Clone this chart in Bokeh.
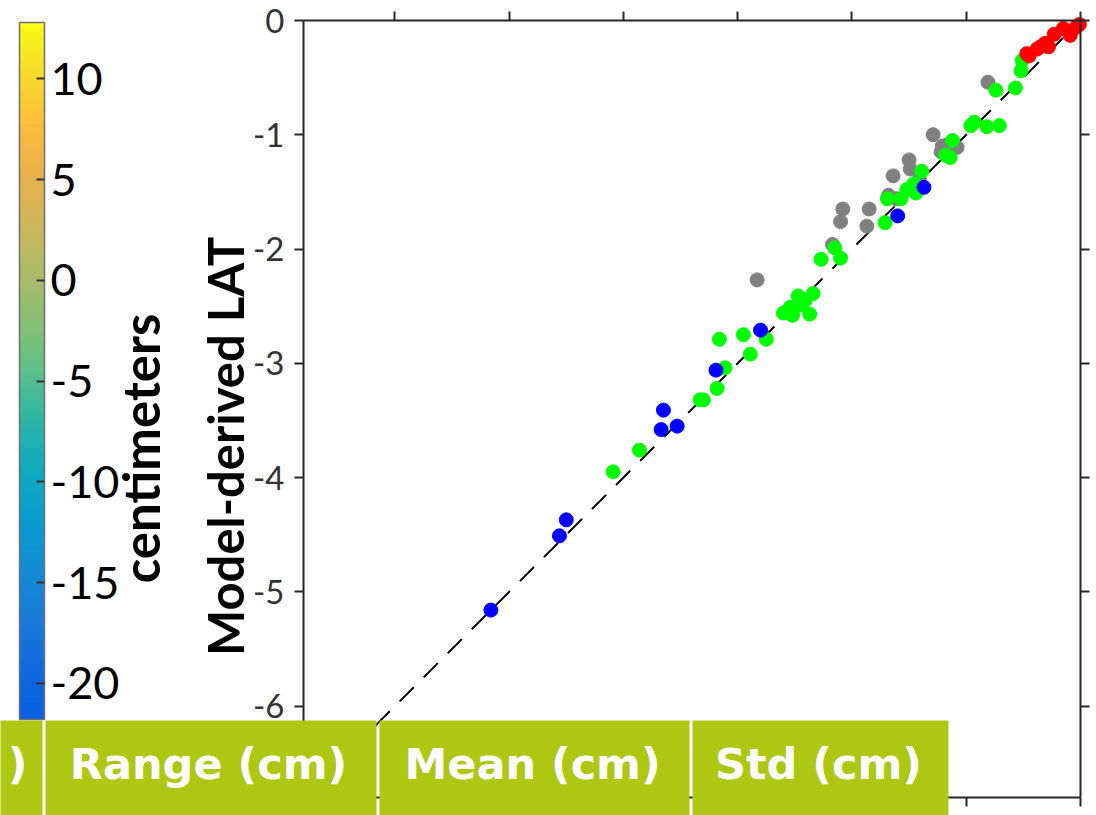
import math
from bokeh.plotting import figure
from bokeh.models import (Range1d, LinearAxis, FixedTicker, ColorBar, LinearColorMapper,
                          Label, BoxAnnotation)
from bokeh.embed import file_html
from bokeh.resources import INLINE

# ---------------- data ----------------
green_x = [-4.09, -3.86, -3.33, -3.30, -3.18, -3.16, -3.11, -2.95, -2.89, -2.75,
           -2.60, -2.52, -2.54, -2.46, -2.47, -2.41, -2.34, -2.37, -2.27, -2.10, -2.15,
           -1.71, -1.69, -1.57, -1.52, -1.44, -1.46, -1.39, -1.18, -1.12, -1.14,
           -0.96, -0.93, -0.82, -0.71, -0.74, -0.57, -0.52, -0.51]
green_y = [-3.95, -3.76, -3.32, -3.32, -3.22, -2.79, -3.04, -2.75, -2.92, -2.79,
           -2.56, -2.58, -2.51, -2.49, -2.41, -2.45, -2.39, -2.57, -2.09, -2.08, -1.99,
           -1.77, -1.56, -1.56, -1.48, -1.51, -1.43, -1.32, -1.18, -1.05, -1.20,
           -0.92, -0.89, -0.93, -0.92, -0.61, -0.59, -0.44, -0.35]
gray_x = [-2.83, -2.17, -2.10, -2.08, -1.87, -1.85, -1.68, -1.61, -1.64, -1.50, -1.49,
          -1.41, -1.29, -1.21, -1.22, -1.08, -1.17, -0.81]
gray_y = [-2.27, -1.96, -1.76, -1.65, -1.80, -1.65, -1.53, -1.56, -1.36, -1.22, -1.30,
          -1.39, -1.00, -1.10, -1.15, -1.11, -1.09, -0.54]
blue_x = [-5.16, -4.50, -4.56, -3.65, -3.67, -3.53, -3.19, -2.80, -1.60, -1.37]
blue_y = [-5.16, -4.37, -4.51, -3.41, -3.58, -3.55, -3.06, -2.71, -1.71, -1.46]
red_x = [-0.47, -0.45, -0.38, -0.35, -0.31, -0.28, -0.23, -0.15, -0.09, -0.04, -0.01]
red_y = [-0.29, -0.31, -0.25, -0.23, -0.20, -0.23, -0.12, -0.07, -0.13, -0.06, -0.035]
lat_min, lat_max = -6.8, 0.0
one_to_one = [lat_min, lat_max]
lat_ticks = [-6, -5, -4, -3, -2, -1, 0]
cbar_ticks = [-20, -15, -10, -5, 0, 5, 10]
cbar_low, cbar_high = -21.8, 12.8
header_cells = [")", "Range (cm)", "Mean (cm)", "Std (cm)"]

# ---------------- palette (parula-like) ----------------
anchors = ["#0760e3", "#1169dd", "#1a7ad8", "#138cd4", "#079cce", "#10aac0", "#2cb5a5",
           "#5cc08a", "#8abf74", "#aebb68", "#d0b65a", "#e9b14c", "#fdbe3c", "#f5dc2a", "#f9fb15"]
def _h2r(h):
    return [int(h[i:i + 2], 16) for i in (1, 3, 5)]
palette = []
n = 256
for i in range(n):
    t = i / (n - 1) * (len(anchors) - 1)
    k = min(int(t), len(anchors) - 2)
    f = t - k
    a, b = _h2r(anchors[k]), _h2r(anchors[k + 1])
    palette.append("#%02x%02x%02x" % tuple(round(a[j] + (b[j] - a[j]) * f) for j in range(3)))

# ---------------- geometry: plot box 303..1080 x 20..797 px on a 1096x815 canvas -------
W, H = 1096, 815
BOX_L, BOX_R, BOX_T, BOX_B = 303, 1080, 20, 797
S = (BOX_R - BOX_L) / (lat_max - lat_min)
def dx(px):
    return lat_max + (px - BOX_R) / S
def dy(py):
    return lat_max - (py - BOX_T) / S

p = figure(width=W, height=H, output_backend="svg", toolbar_location=None,
           x_range=Range1d(dx(0), dx(W)), y_range=Range1d(dy(H), dy(0)),
           x_axis_location=None, y_axis_location=None,
           min_border=0, min_border_left=0, min_border_right=0,
           min_border_top=0, min_border_bottom=0)
p.outline_line_color = None
p.xgrid.visible = False
p.ygrid.visible = False
p.background_fill_color = "white"
p.border_fill_color = "white"

axcol = "#262626"
def make_axis(loc, labels):
    ax = LinearAxis(fixed_location=loc, bounds=(lat_min, lat_max))
    ax.ticker = FixedTicker(ticks=lat_ticks)
    ax.major_tick_out = 9
    ax.major_tick_in = 0
    ax.minor_tick_line_color = None
    ax.axis_line_color = axcol
    ax.axis_line_width = 2
    ax.major_tick_line_color = axcol
    ax.major_tick_line_width = 2
    if labels:
        ax.major_label_overrides = {t: str(t) for t in lat_ticks}
        ax.major_label_text_font = "Lato"
        ax.major_label_text_font_size = "33px"
        ax.major_label_text_color = "#333333"
        ax.major_label_standoff = 10
    else:
        ax.major_label_text_color = None
        ax.major_label_text_font_size = "1px"
        ax.major_label_standoff = 0
    return ax

p.add_layout(make_axis(lat_min, True), "left")
p.add_layout(make_axis(lat_max, False), "right")
p.add_layout(make_axis(lat_max, False), "above")
p.add_layout(make_axis(lat_min, False), "below")

# 1:1 line and points
p.line(one_to_one, one_to_one, line_color="black", line_width=2, line_dash="20 14")
p.scatter(gray_x, gray_y, size=14, color="#808080")
p.scatter(green_x, green_y, size=14, color="#00ff00")
p.scatter(blue_x, blue_y, size=14, color="#0000ff")
p.scatter(red_x, red_y, size=14, color="#ff0000")

# ---------------- colorbar ----------------
mapper = LinearColorMapper(palette=palette, low=cbar_low, high=cbar_high)
cb = ColorBar(color_mapper=mapper, location=(19, H - 719), width=25, height=697,
              padding=0, margin=0, ticker=FixedTicker(ticks=cbar_ticks),
              major_label_overrides={t: str(t) for t in cbar_ticks},
              major_tick_in=8, major_tick_out=0, major_tick_line_color="#333333",
              major_tick_line_width=2, minor_tick_line_color=None,
              bar_line_color="#707070", bar_line_width=1.5,
              border_line_color=None, background_fill_color=None,
              label_standoff=6, major_label_text_font="Lato",
              major_label_text_font_size="45px", major_label_text_color="black")
p.add_layout(cb, "center")

# rotated titles
p.add_layout(Label(x=dx(140), y=dy(448), text="centimeters", angle=math.pi / 2,
                   text_align="center", text_baseline="middle", text_font="Lato",
                   text_font_size="51px", text_font_style="bold", text_color="black"))
p.add_layout(Label(x=dx(224), y=dy(446), text="Model-derived LAT", angle=math.pi / 2,
                   text_align="center", text_baseline="middle", text_font="Lato",
                   text_font_size="49px", text_font_style="bold", text_color="black"))

# ---------------- table header band ----------------
green = "#adc713"
cells = [(-40, 42), (45, 376), (379, 689), (692, 948)]
centers = [17, 208, 532, 818]
for (l, r), c, txt in zip(cells, centers, header_cells):
    p.add_layout(BoxAnnotation(left=dx(l), right=dx(r), top=dy(720), bottom=dy(860),
                               fill_color=green, fill_alpha=1, line_color=None, level="overlay"))
    p.add_layout(Label(x=dx(c), y=dy(763), text=txt, text_align="center",
                       text_baseline="middle", text_font="DejaVu Sans",
                       text_font_size="43px", text_font_style="bold", text_color="white",
                       level="overlay"))

open("out.html", "w").write(file_html(p, INLINE))
